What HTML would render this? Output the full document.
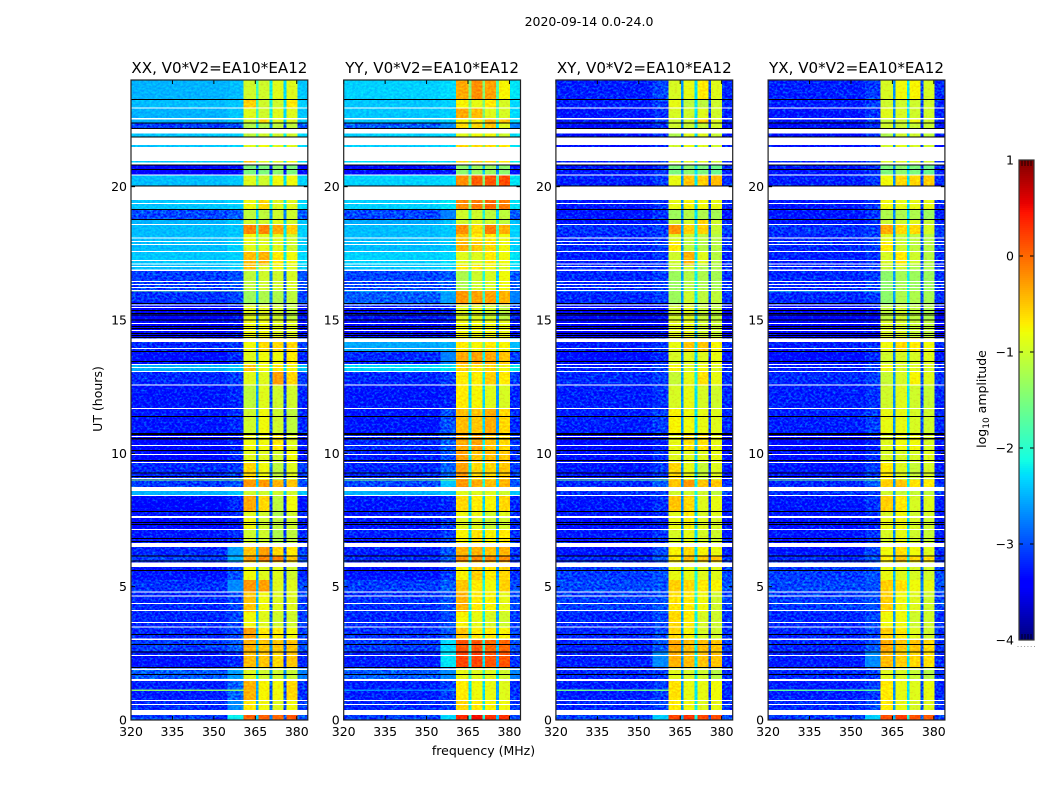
<!DOCTYPE html>
<html lang="en">
<head>
<meta charset="utf-8">
<title>2020-09-14 0.0-24.0</title>
<style>
html,body{margin:0;padding:0;background:#fff;}
body{width:1050px;height:800px;overflow:hidden;}
svg{display:block;}
text{font-family:"DejaVu Sans","Liberation Sans",sans-serif;fill:#000;}
</style>
</head>
<body>
<svg id="chart" xmlns="http://www.w3.org/2000/svg" width="1050" height="800" viewBox="0 0 1050 800">
  <defs>
    <filter id="speckle" filterUnits="userSpaceOnUse" x="0" y="0" width="1050" height="800" color-interpolation-filters="sRGB">
      <feTurbulence type="fractalNoise" baseFrequency="0.36 0.5" numOctaves="2" seed="7" result="n"/>
      <feColorMatrix in="n" type="matrix" values="0 0 0 0 .5  2 0 0 0 -.62  0 0 0 0 .5  0 0 0 0 1" result="g"/>
      <feComposite in="SourceGraphic" in2="g" operator="arithmetic" k1="0" k2="1" k3=".6" k4="-.3" result="m"/>
      <feComposite in="m" in2="SourceGraphic" operator="in"/>
    </filter>
    <filter id="speckle-soft" filterUnits="userSpaceOnUse" x="0" y="0" width="1050" height="800" color-interpolation-filters="sRGB">
      <feTurbulence type="fractalNoise" baseFrequency="0.36 0.5" numOctaves="2" seed="11" result="n"/>
      <feColorMatrix in="n" type="matrix" values="0 0 0 0 .5  2 0 0 0 -.5  0 0 0 0 .5  0 0 0 0 1" result="g"/>
      <feComposite in="SourceGraphic" in2="g" operator="arithmetic" k1="0" k2="1" k3=".2" k4="-.1" result="m"/>
      <feComposite in="m" in2="SourceGraphic" operator="in"/>
    </filter>
  </defs>
  <text x="589" y="26" text-anchor="middle" font-size="12.5">2020-09-14 0.0-24.0</text>
  <text x="483.5" y="755" text-anchor="middle" font-size="12.5">frequency (MHz)</text>
  <text transform="translate(102,399) rotate(-90)" text-anchor="middle" font-size="12.5">UT (hours)</text>
  <text transform="translate(986,399) rotate(-90)" text-anchor="middle" font-size="12.5">log<tspan font-size="9" dy="3">10</tspan><tspan dy="-3"> amplitude</tspan></text>
</svg>
<script>
// Frequency bands (MHz) and what each band reads from a row:
const freqEdges = [320, 355, 360.7, 365.2, 366.2, 370.2, 371.2, 375.2, 376.2, 380.2, 384];
const xTickLabels = [320, 335, 350, 365, 380];
const yTickLabels = [0, 5, 10, 15, 20];
const colorTickLabels = [1, 0, -1, -2, -3, -4];

// UT band edges (hours, descending from 24)
const utEdges = [24,23.29,22.95,22.54,22.39,22.16,21.86,21.49,20.89,20.42,20.03,19.16,18.79,18.58,18.23,17.96,17.55,17.06,16.84,16.09,15.56,15,14.33,13.8,13.31,13.09,12.56,11.7,10.76,10.13,9.68,9,8.7,8.44,7.8,7.65,7.13,6.64,6.15,5.93,5.25,4.8,4.05,3.45,3,2.59,1.95,1.46,0.75,0.38,0];

// Missing integrations (white) [UT high, UT low]
const missingUT = [[22.97,22.93],[22.57,22.52],[22.16,21.99],[21.86,21.56],[21.49,20.96],[20.9,20.83],[20.46,20.41],[20.03,19.5],[19.38,19.35],[18.6,18.56],[18.09,18.06],[17.97,17.94],[17.85,17.81],[17.59,17.55],[17.25,17.21],[17.12,17.08],[17.03,16.99],[16.89,16.84],[16.46,16.43],[16.35,16.31],[16.24,16.2],[16.13,16.1],[15.59,15.56],[15.49,15.45],[14.89,14.85],[14.63,14.59],[14.31,14.18],[13.95,13.91],[13.35,13.31],[13.24,13.2],[13.09,13.05],[12.59,12.54],[11.7,11.66],[10.65,10.61],[10.31,10.28],[9.98,9.94],[9.68,9.64],[9.08,9.04],[8.74,8.58],[8.44,8.4],[7.65,7.58],[7.16,7.13],[6.64,6.48],[5.9,5.74],[4.82,4.78],[4.67,4.63],[4.39,4.35],[4.13,4.09],[3.68,3.64],[3.51,3.47],[3.06,3],[2.44,2.4],[1.94,1.88],[1.53,1.46],[0.75,0.71],[0.6,0.56],[0.38,0.19]];

// Flagged integrations (black) [UT high, UT low]
const flaggedUT = [[23.29,23.25],[22.4,22.37],[22.2,22.16],[21.88,21.86],[20.83,20.79],[20.66,20.63],[20.05,20.03],[19.16,19.14],[18.78,18.75],[15.64,15.61],[15.38,15.35],[15.26,15.24],[15.2,15.18],[15.02,14.99],[14.77,14.74],[14.7,14.67],[14.51,14.49],[14.44,14.41],[14.36,14.34],[13.84,13.81],[13.46,13.43],[11.4,11.37],[10.76,10.68],[10.58,10.52],[10.13,10.1],[9.75,9.72],[9.28,9.25],[9.15,9.12],[7.83,7.8],[7.43,7.4],[7.35,7.32],[6.83,6.79],[6.72,6.69],[6.17,6.14],[5.98,5.96],[5.63,5.6],[3.23,3.2],[2.85,2.82],[2.57,2.54],[1.99,1.96],[1.73,1.7]];

// Narrow interference bursts across the low band
const rfiUT = [16.1, 9.0, 1.12];
const xxRfi = [-1.5, -1.4, -1.4];
const yyRfi = [-2.2, -1.5, -2.7];
const xyRfi = [-2.6, -1.6, -1.6];
const yxRfi = [-2.0, -1.6, -1.7];

// log10 amplitude per UT band: [low band, band edge, sub-band 1, 2, 3, 4]
const xxRows = [
[-2.5,-2.45,-1,-1,-0.9,-0.9],[-2.45,-2.4,-0.55,-1,-1,-0.7],[-2.5,-2.4,-0.9,-1,-0.9,-0.9],[-2.5,-2.4,-1,-0.6,-0.9,-0.9],[-3,-2.9,-1.2,-1.2,-1.1,-1.1],
[-2.4,-2.35,-1.1,-1,-1,-1],[-2.4,-2.35,-0.9,-0.8,-0.9,-0.9],[-2.4,-2.35,-0.5,-0.9,-0.9,-0.8],[-3.4,-3.3,-1.5,-1.5,-1.4,-1.5],[-2.45,-2.4,-0.9,-1,-0.8,-0.8],
[-2.4,-2.35,-0.8,-0.6,-0.9,-0.9],[-2.95,-2.85,-1.1,-1.1,-1,-1],[-2.5,-2.4,-1,-1,-0.9,-1],[-2.45,-2.4,-0.15,-0.15,-0.35,-0.55],[-2.45,-2.4,-0.8,-0.9,-0.9,-1],
[-2.45,-2.35,-0.9,-0.9,-0.9,-1],[-2.4,-2.35,-0.45,-0.4,-0.7,-0.8],[-2.45,-2.35,-0.5,-0.9,-0.8,-0.9],[-3,-2.9,-1.1,-1,-1,-0.95],[-3.05,-2.95,-1.3,-1.2,-1.2,-1.1],
[-3.35,-3.25,-0.9,-0.9,-1,-1.1],[-3.35,-3.25,-0.8,-0.8,-0.9,-0.9],[-3.1,-3,-0.8,-0.6,-0.6,-0.6],[-3.25,-3.1,-0.9,-0.8,-0.8,-0.7],[-2.5,-2.4,-0.5,-0.8,-0.7,-0.8],
[-3.1,-3,-0.9,-0.9,-0.3,-0.6],[-3.2,-3.1,-1.1,-0.9,-1,-1],[-3.2,-3.1,-1,-0.8,-1,-1.1],[-3.3,-3.15,-0.8,-0.8,-0.7,-0.9],[-3.3,-3.1,-0.9,-0.9,-1,-0.8],
[-3.1,-3,-0.6,-0.8,-1.1,-0.9],[-3,-2.9,-0.25,-0.25,-0.4,-0.5],[-2.5,-2.4,-1,-1,-1,-1],[-3.3,-3.1,-0.35,-0.6,-1.1,-0.8],[-3.2,-3.1,-0.9,-1,-1.2,-1],
[-3.3,-3.2,-0.8,-1,-1.1,-1],[-3.2,-3.1,-1,-1,-1.2,-1.1],[-3.1,-2.6,-0.5,-0.3,-0.6,-0.7],[-3,-2.5,-0.3,-0.15,-0.15,-0.5],[-3.2,-2.9,-0.8,-0.9,-0.9,-1],
[-3.05,-2.7,-0.25,-0.3,-0.9,-0.9],[-3.1,-2.95,-0.5,-0.8,-0.9,-0.9],[-3.1,-2.95,-0.8,-0.9,-1,-1],[-3.1,-2.95,-0.3,-0.7,-0.7,-0.8],[-3,-2.85,-0.4,-0.5,-0.5,-0.5],
[-3.2,-3.1,-0.45,-0.5,-0.6,-0.5],[-2.85,-2.6,-0.9,-1,-1,-1.05],[-3.15,-2.8,-0.4,-0.75,-0.8,-0.6],[-3.1,-2.7,-0.7,-0.8,-0.9,-0.8],[-3,-2.2,0.05,0.05,0,0.1]
];
const yyRows = [
[-2.35,-2.3,-0.35,-0.2,-0.3,-0.75],[-2.4,-2.35,-0.75,-0.85,-0.7,-0.95],[-2.4,-2.35,-0.35,-0.45,-0.9,-0.95],[-2.4,-2.35,-0.75,-0.7,-0.4,-0.5],[-2.85,-2.7,-0.6,-0.6,-0.5,-0.9],
[-2.35,-2.3,-0.9,-0.8,-0.8,-1],[-2.35,-2.3,-0.6,-0.6,-0.6,-0.7],[-2.3,-2.3,-0.6,-0.6,-0.6,-0.7],[-3.3,-3.2,-1.4,-1.3,-1.3,-1.4],[-2.35,-2.3,-0.2,0.05,0.1,0.15],
[-2.35,-2.25,-0.2,-0.1,0,-0.1],[-2.95,-2.75,-1,-1,-1.1,-1.1],[-2.55,-2.45,-1,-0.9,-1,-1.1],[-2.45,-2.4,-0.2,-0.6,-0.1,-0.4],[-2.45,-2.4,-0.5,-0.7,-0.7,-0.8],
[-2.45,-2.4,-0.4,-0.5,-0.6,-0.8],[-2.35,-2.3,-0.9,-0.9,-0.7,-0.8],[-2.4,-2.35,-0.7,-0.7,-0.8,-0.9],[-2.95,-2.85,-1.2,-1,-0.95,-0.8],[-2.85,-2.6,-0.25,-0.3,-0.3,-0.4],
[-3.2,-3.1,-0.9,-0.9,-1,-1.1],[-3.3,-3.2,-0.8,-0.8,-0.8,-0.85],[-2.55,-2.5,-0.7,-0.75,-0.7,-0.75],[-3.1,-2.75,-0.35,-0.3,-0.35,-0.5],[-2.3,-2.25,-0.6,-0.7,-0.6,-0.8],
[-3.1,-3,-0.7,-0.7,-0.55,-0.7],[-3.2,-3.15,-0.7,-0.75,-0.9,-0.95],[-3.2,-2.9,-0.45,-0.5,-0.35,-0.6],[-3.1,-2.85,-0.35,-0.3,-0.5,-0.6],[-3.15,-2.9,-0.3,-0.5,-0.45,-0.5],
[-3.1,-2.8,-0.3,-0.6,-0.6,-0.5],[-2.95,-2.4,-0.25,-0.35,-0.45,-0.4],[-2.5,-2.4,-0.9,-0.9,-0.9,-1],[-3.2,-3.1,-0.6,-0.7,-0.75,-0.6],[-3.2,-3.1,-0.8,-0.8,-1,-0.9],
[-3.2,-3,-0.9,-0.9,-1.05,-1],[-3.15,-3,-0.75,-0.65,-0.75,-0.7],[-3.15,-2.9,-0.4,-0.4,-0.5,-0.4],[-3.1,-2.85,-0.2,-0.15,-0.2,-0.2],[-3.2,-3,-0.75,-0.55,-0.7,-0.6],
[-3,-2.85,-0.5,-0.7,-0.8,-0.55],[-3.05,-2.9,-0.4,-0.7,-0.75,-0.85],[-3.1,-2.95,-0.75,-0.85,-0.95,-1],[-3.05,-2.85,-0.5,-0.7,-0.7,-0.75],[-3,-2.3,0.1,0.1,0,0],
[-3.15,-2.25,0.2,0.2,0.1,0.1],[-2.85,-2.7,-0.85,-0.9,-0.9,-1],[-3.15,-3,-0.7,-0.8,-0.85,-0.9],[-3.1,-3,-0.6,-0.7,-0.75,-0.8],[-3,-2.3,0.35,0.5,0.3,0.3]
];
const xyRows = [
[-3.15,-2.95,-0.95,-0.85,-0.7,-0.9],[-3.15,-3,-0.85,-1.1,-1.1,-1],[-3.2,-3.05,-0.95,-1,-0.9,-1],[-3.2,-3.05,-1,-1,-0.5,-0.9],[-3.25,-3.05,-1,-1.05,-1.05,-1],
[-3.25,-3.1,-1.2,-0.9,-0.9,-1.05],[-3.25,-3.1,-1,-0.85,-0.9,-1],[-3.15,-3,-0.95,-0.9,-0.9,-1],[-3.2,-3.05,-1.5,-1.4,-1.5,-1.6],[-3.15,-3,-0.85,-0.5,-0.55,-0.45],
[-3.2,-3.05,-0.85,-0.75,-0.8,-0.85],[-3.2,-3.05,-1.3,-1.15,-1.2,-1.25],[-3.2,-3.05,-1.05,-0.95,-0.6,-1],[-3.05,-3,-0.25,-0.55,-0.55,-1.05],[-3.1,-3,-0.95,-1.05,-1.1,-1.15],
[-3.1,-3,-0.7,-1.1,-1.15,-1.15],[-3.15,-3.05,-1,-0.4,-0.9,-1.15],[-3.1,-3,-1.05,-1,-1.2,-1.2],[-3.1,-3,-1.3,-1.15,-1.2,-1.25],[-3.1,-3,-1.3,-1,-1.1,-1.1],
[-3.35,-3.25,-1,-0.9,-1.05,-1.1],[-3.4,-3.3,-0.9,-0.85,-1,-1.05],[-3.15,-3.05,-0.85,-0.5,-0.5,-0.75],[-3.25,-3.1,-0.95,-0.9,-0.9,-0.85],[-3.15,-3,-0.75,-0.9,-0.8,-0.9],
[-3.1,-3,-1.05,-0.85,-0.65,-0.85],[-3.15,-3.05,-0.95,-0.85,-0.95,-1],[-3.15,-3,-0.75,-0.8,-0.85,-0.9],[-3.3,-3.15,-0.85,-0.65,-0.65,-0.85],[-3.25,-3.05,-0.9,-0.9,-0.9,-0.85],
[-3.2,-3,-0.6,-0.85,-1.05,-0.9],[-3.1,-2.85,-0.5,-0.25,-0.5,-0.5],[-3.05,-3,-1,-1,-1,-1.1],[-3.2,-3.05,-0.5,-0.6,-0.9,-0.85],[-3.2,-3.1,-0.9,-0.7,-0.95,-0.9],
[-3.25,-3.15,-0.85,-0.75,-0.9,-0.95],[-3.2,-3.05,-0.95,-0.85,-0.95,-1],[-3.2,-2.95,-0.75,-0.6,-0.75,-0.85],[-3.1,-2.9,-0.7,-0.45,-0.5,-0.5],[-3,-2.9,-0.85,-0.85,-0.9,-0.9],
[-2.95,-2.9,-0.55,-0.6,-0.7,-0.75],[-3,-2.9,-0.65,-0.7,-0.8,-1],[-3.1,-2.95,-0.6,-0.7,-0.95,-1],[-3.1,-2.95,-0.6,-0.75,-0.95,-1],[-3.1,-2.9,-0.35,-0.45,-0.45,-0.5],
[-3.15,-2.7,-0.4,-0.45,-0.5,-0.5],[-3.1,-3,-0.9,-0.95,-1,-1.15],[-3.15,-3,-0.65,-0.85,-0.85,-0.8],[-3.1,-2.95,-0.7,-0.8,-0.9,-0.85],[-3,-2.35,0.2,0.3,0.2,0.15]
];
const yxRows = [
[-3.15,-3,-0.95,-0.8,-0.75,-0.95],[-3.15,-3,-1,-1,-1,-1],[-3.2,-3.05,-0.9,-0.95,-1,-1],[-3.2,-3.05,-1.05,-1,-0.8,-1],[-3.25,-3.05,-1,-1.05,-1.05,-1.05],
[-3.25,-3.1,-1.2,-1,-1,-1.1],[-3.25,-3.1,-1,-0.9,-0.95,-1],[-3.15,-3,-0.95,-0.9,-0.95,-1],[-3.2,-3.05,-1.5,-1.4,-1.5,-1.6],[-3.15,-3,-0.8,-0.6,-0.6,-0.55],
[-3.2,-3.05,-0.8,-0.85,-0.85,-0.85],[-3.2,-3.05,-1.2,-1.2,-1.2,-1.3],[-3.2,-3.05,-1.05,-1,-0.9,-1.05],[-3.05,-3,-0.35,-0.6,-0.6,-0.95],[-3.1,-3,-0.9,-1.05,-1.1,-1.15],
[-3.1,-3,-0.7,-1,-1.1,-1.15],[-3.15,-3.05,-0.95,-0.7,-1,-1.15],[-3.1,-3,-1.05,-1,-1.2,-1.2],[-3.1,-3,-1.4,-1.25,-1.3,-1.3],[-3.1,-3,-1.4,-1.2,-1.2,-1.25],
[-3.35,-3.25,-1.1,-1,-1.1,-1.2],[-3.4,-3.3,-0.95,-0.95,-1.05,-1.1],[-3.15,-3.05,-0.8,-0.6,-0.7,-0.8],[-3.25,-3.1,-1,-0.95,-0.95,-0.9],[-3.15,-3,-0.8,-0.95,-0.9,-0.95],
[-3.1,-3,-1.05,-0.95,-0.75,-0.9],[-3.15,-3.05,-1,-0.9,-1,-1.05],[-3.15,-3,-0.85,-0.85,-0.95,-1],[-3.3,-3.15,-0.9,-0.8,-0.8,-0.95],[-3.25,-3.05,-0.95,-0.95,-0.95,-0.9],
[-3.2,-3,-0.7,-0.9,-1.05,-0.95],[-3.1,-2.85,-0.55,-0.5,-0.65,-0.7],[-3.05,-3,-1,-1.05,-1.05,-1.1],[-3.2,-3.05,-0.55,-0.7,-0.95,-0.9],[-3.2,-3.1,-0.95,-0.8,-1,-0.95],
[-3.25,-3.15,-0.85,-0.8,-0.95,-1],[-3.2,-3.05,-0.95,-0.85,-1,-1.05],[-3.2,-2.95,-0.8,-0.65,-0.8,-0.9],[-3.1,-2.9,-0.7,-0.5,-0.6,-0.65],[-3,-2.9,-0.85,-0.9,-0.95,-1],
[-2.95,-2.9,-0.55,-0.65,-0.8,-0.85],[-3,-2.9,-0.55,-0.8,-0.9,-1],[-3.1,-2.95,-0.8,-0.8,-1,-1],[-3.1,-2.95,-0.55,-0.7,-0.9,-1],[-3.1,-2.9,-0.35,-0.5,-0.5,-0.6],
[-3.15,-2.7,-0.45,-0.55,-0.6,-0.65],[-3.1,-3,-0.9,-0.95,-1.05,-1.15],[-3.15,-3,-0.7,-0.85,-0.9,-0.85],[-3.1,-2.95,-0.7,-0.85,-0.95,-0.9],[-3,-2.35,0.15,0.25,0.15,0.1]
];

// Amount the three narrow channels (365, 370, 375 MHz) and the top band sit above the low band
const xxGaps = [0.6, 0.3, 0.2, 0.1];
const yyGaps = [0.9, 0.9, 0.6, 0.1];
const xyGaps = [0.5, 0.9, 0.2, 0.05];
const yxGaps = [0.5, 0.9, 0.2, 0.05];

const panelTitles = ['XX, V0*V2=EA10*EA12', 'YY, V0*V2=EA10*EA12', 'XY, V0*V2=EA10*EA12', 'YX, V0*V2=EA10*EA12'];
const panelKeys = ['xx', 'yy', 'xy', 'yx'];
const panelRows = [xxRows, yyRows, xyRows, yxRows];
const panelGaps = [xxGaps, yyGaps, xyGaps, yxGaps];
const panelRfi = [xxRfi, yyRfi, xyRfi, yxRfi];

const NS = 'http://www.w3.org/2000/svg';
const svg = document.getElementById('chart');
const panelLefts = [131, 343.7, 555.9, 768.1];
const panelWidth = 176.8;
const plotTop = 80;
const plotBottom = 720;
const FMIN = 320, FMAX = 384, UTMIN = 0, UTMAX = 24, VMIN = -4, VMAX = 1;
const SOFT_ABOVE = -2.8;

function xScale(f, left) { return left + (f - FMIN) / (FMAX - FMIN) * panelWidth; }
function yScale(ut) { return plotBottom - (ut - UTMIN) / (UTMAX - UTMIN) * (plotBottom - plotTop); }

function lerpStops(stops, t) {
  for (let i = 1; i < stops.length; i++) {
    if (t <= stops[i][0]) {
      const a = stops[i - 1], b = stops[i];
      return a[1] + (b[1] - a[1]) * (t - a[0]) / (b[0] - a[0]);
    }
  }
  return stops[stops.length - 1][1];
}
const jetR = [[0,0],[0.35,0],[0.66,1],[0.89,1],[1,0.5]];
const jetG = [[0,0],[0.125,0],[0.375,1],[0.64,1],[0.91,0],[1,0]];
const jetB = [[0,0.5],[0.11,1],[0.34,1],[0.65,0],[1,0]];
function colorFor(v) {
  const t = Math.max(0, Math.min(1, (v - VMIN) / (VMAX - VMIN)));
  return 'rgb(' + Math.round(lerpStops(jetR, t) * 255) + ',' + Math.round(lerpStops(jetG, t) * 255) + ',' + Math.round(lerpStops(jetB, t) * 255) + ')';
}

function node(tag, parent, attrs) {
  const el = document.createElementNS(NS, tag);
  for (const k in attrs) el.setAttribute(k, attrs[k]);
  parent.appendChild(el);
  return el;
}

// Which value each frequency band takes from a row
function bandValue(row, gaps, band) {
  switch (band) {
    case 0: return row[0];
    case 1: return row[1];
    case 2: return row[2];
    case 3: return row[0] + gaps[0];
    case 4: return row[3];
    case 5: return row[0] + gaps[1];
    case 6: return row[4];
    case 7: return row[0] + gaps[2];
    case 8: return row[5];
    default: return row[0] + gaps[3];
  }
}

panelLefts.forEach(function (left, p) {
  const key = panelKeys[p];
  const rows = panelRows[p];
  const gaps = panelGaps[p];
  const rfi = panelRfi[p];

  const panel = node('g', svg, {});
  
  

  const clip = node('clipPath', panel, { id: 'clip-' + key });
  node('rect', clip, { x: left, y: plotTop, width: panelWidth, height: plotBottom - plotTop });

  const clipped = node('g', panel, { 'clip-path': 'url(#clip-' + key + ')' });
  const heat = node('g', clipped, { filter: 'url(#speckle)', 'shape-rendering': 'crispEdges' });
  
  
  const heatSoft = node('g', clipped, { filter: 'url(#speckle-soft)', 'shape-rendering': 'crispEdges' });
  
  

  rows.forEach(function (row, r) {
    const y0 = yScale(utEdges[r]);
    const y1 = yScale(utEdges[r + 1]);
    for (let b = 0; b < freqEdges.length - 1; b++) {
      const x0 = xScale(freqEdges[b], left);
      const x1 = xScale(freqEdges[b + 1], left);
      const v = bandValue(row, gaps, b);
      const cell = node('rect', v > SOFT_ABOVE ? heatSoft : heat, { x: x0, y: y0, width: x1 - x0, height: y1 - y0, fill: colorFor(v) });
      
      
    }
  });

  rfiUT.forEach(function (ut, i) {
    const x0 = xScale(freqEdges[0], left);
    const x1 = xScale(freqEdges[2], left);
    const line = node('rect', heatSoft, { x: x0, y: yScale(ut) - 0.5, width: x1 - x0, height: 1.2, fill: colorFor(rfi[i]) });
    
    
  });

  const overlay = node('g', clipped, { 'shape-rendering': 'crispEdges' });
  missingUT.forEach(function (g) {
    const y0 = yScale(g[0]);
    const band = node('rect', overlay, { x: left, y: y0, width: panelWidth, height: Math.max(1, yScale(g[1]) - y0), fill: '#fff' });
    
    
  });
  flaggedUT.forEach(function (g) {
    const y0 = yScale(g[0]);
    const band = node('rect', overlay, { x: left, y: y0, width: panelWidth, height: Math.max(1, yScale(g[1]) - y0), fill: '#000' });
    
    
  });

  const axes = node('g', panel, {});
  xTickLabels.forEach(function (f) {
    const x = xScale(f, left);
    node('line', axes, { x1: x, x2: x, y1: plotBottom, y2: plotBottom - 4, stroke: '#000', 'stroke-width': 1 });
    node('line', axes, { x1: x, x2: x, y1: plotTop, y2: plotTop + 4, stroke: '#000', 'stroke-width': 1 });
    const label = node('text', axes, { x: x, y: plotBottom + 16, 'text-anchor': 'middle', 'font-size': 12.5 });
    label.textContent = f;
    
    
  });
  yTickLabels.forEach(function (ut) {
    const y = yScale(ut);
    node('line', axes, { x1: left, x2: left + 4, y1: y, y2: y, stroke: '#000', 'stroke-width': 1 });
    node('line', axes, { x1: left + panelWidth, x2: left + panelWidth - 4, y1: y, y2: y, stroke: '#000', 'stroke-width': 1 });
    const label = node('text', axes, { x: left - 4, y: y + 4.5, 'text-anchor': 'end', 'font-size': 12.5 });
    label.textContent = ut;
    
    
  });
  const frame = node('rect', axes, { x: left, y: plotTop, width: panelWidth, height: plotBottom - plotTop, fill: 'none', stroke: '#222', 'stroke-width': 1.2 });
  
  

  const title = node('text', panel, { x: left + panelWidth / 2, y: 73, 'text-anchor': 'middle', 'font-size': 15.1 });
  title.textContent = panelTitles[p];
  
  
});

// Colorbar
const cbLeft = 1019, cbWidth = 15, cbTop = 160, cbBottom = 640;
function cbY(v) { return cbBottom - (v - VMIN) / (VMAX - VMIN) * (cbBottom - cbTop); }
const colorbar = node('g', svg, {});


const ramp = node('g', colorbar, { 'shape-rendering': 'crispEdges' });
for (let py = cbTop; py < cbBottom; py += 2) {
  const v = VMAX - (py + 1 - cbTop) / (cbBottom - cbTop) * (VMAX - VMIN);
  node('rect', ramp, { x: cbLeft, y: py, width: cbWidth, height: 2, fill: colorFor(v) });
}
colorTickLabels.forEach(function (v) {
  const y = cbY(v);
  node('line', colorbar, { x1: cbLeft, x2: cbLeft + 4, y1: y, y2: y, stroke: '#000', 'stroke-width': 1 });
  node('line', colorbar, { x1: cbLeft + cbWidth, x2: cbLeft + cbWidth - 4, y1: y, y2: y, stroke: '#000', 'stroke-width': 1 });
  const label = node('text', colorbar, { x: 1014, y: y + 4.5, 'text-anchor': 'end', 'font-size': 12.5 });
  label.textContent = v < 0 ? '\u2212' + Math.abs(v) : String(v);
  
  
});
[3, 6, 9, 12].forEach(function (dx) {
  node('line', colorbar, { x1: cbLeft + dx, x2: cbLeft + dx, y1: cbTop, y2: cbTop + 6, stroke: '#000', 'stroke-width': 0.8 });
  node('line', colorbar, { x1: cbLeft + dx, x2: cbLeft + dx, y1: cbBottom, y2: cbBottom - 6, stroke: '#000', 'stroke-width': 0.8 });
});
const cbFrame = node('rect', colorbar, { x: cbLeft, y: cbTop, width: cbWidth, height: cbBottom - cbTop, fill: 'none', stroke: '#333', 'stroke-width': 1.2 });


[0, 1, 2, 3, 4, 5].forEach(function (i) {
  const dot = node('rect', colorbar, { x: 1017.5 + i * 3.3, y: 646, width: 1, height: 1, fill: '#999' });
  
  
});
</script>
</body>
</html>
